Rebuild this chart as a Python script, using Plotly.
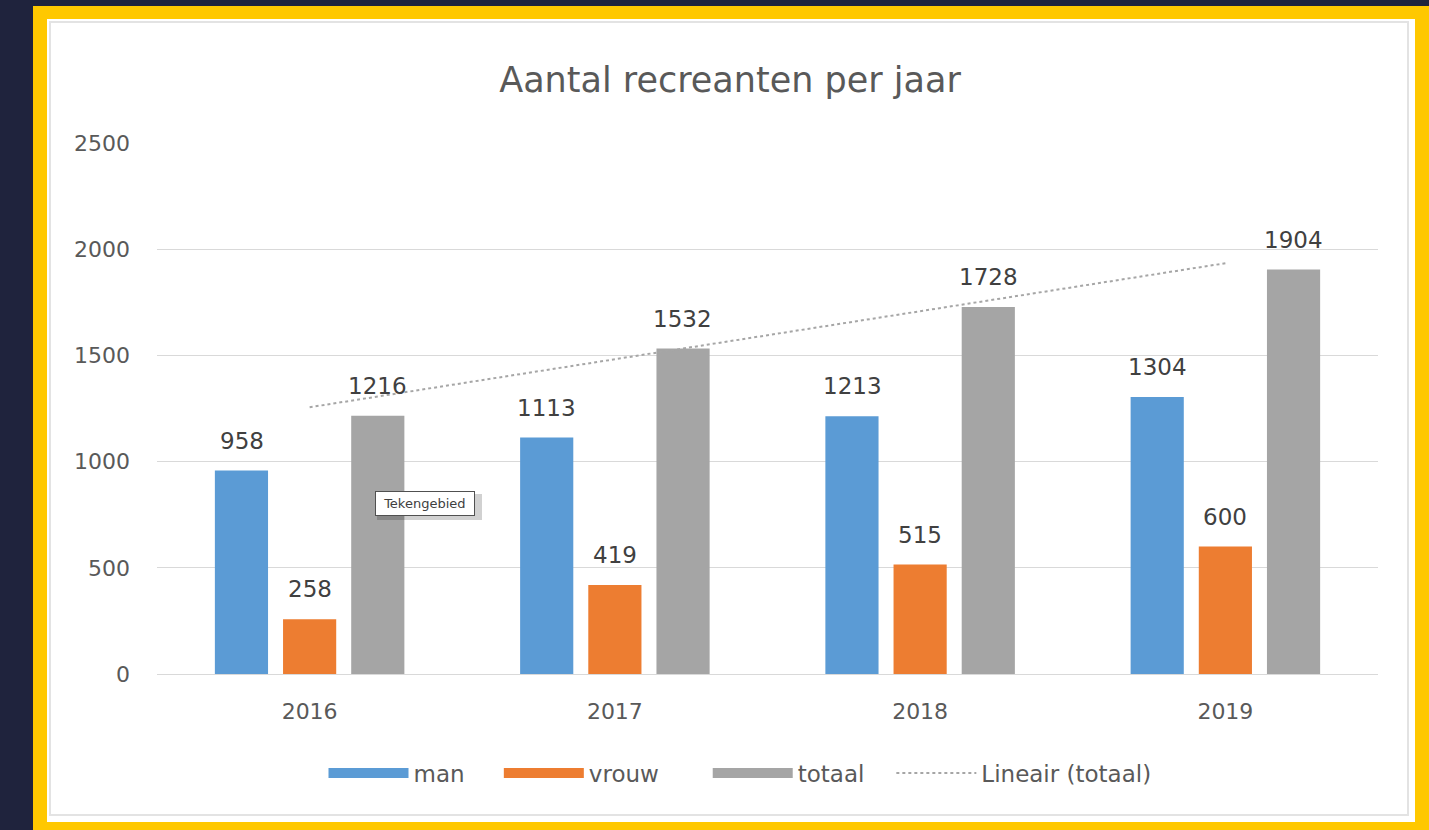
import plotly.graph_objects as go

years = ["2016", "2017", "2018", "2019"]
man = [958, 1113, 1213, 1304]
vrouw = [258, 419, 515, 600]
totaal = [1216, 1532, 1728, 1904]
trend_totaal = [1256, 1482, 1708, 1934]
y_ticks = [0, 500, 1000, 1500, 2000, 2500]

W, H = 1429, 830
FONT = "DejaVu Sans"
NB = "\u00a0"

def px(x):
    return x / W

def py(y):
    return 1 - y / H

fig = go.Figure()
series = [("man", man, "#5B9BD5", 4), ("vrouw", vrouw, "#ED7D31", 6), ("totaal", totaal, "#A5A5A5", 3)]
for name, vals, col, pad in series:
    fig.add_trace(go.Bar(
        x=years, y=vals, name=name, marker=dict(color=col, line=dict(width=0)),
        showlegend=False,
    ))
# legend proxies (wide swatches)
for name, vals, col, pad in series:
    fig.add_trace(go.Scatter(x=[None], y=[None], mode="lines", name=name + NB * pad,
                             line=dict(color=col, width=12), showlegend=True))

fig.add_trace(go.Scatter(
    x=years, y=trend_totaal, mode="lines", name="Lineair (totaal)",
    line=dict(color="#A6A6A6", width=2, dash="dot"), showlegend=True,
))

# data labels above bars, placed through the axis scales (category index on x)
annotations = []
slot = 68
for k, (name, vals, col, pad) in enumerate(series):
    for i, v in enumerate(vals):
        annotations.append(dict(
            x=i, y=v, xref="x", yref="y", text=str(v), showarrow=False,
            xshift=(k - 1) * slot, yshift=30, xanchor="center", yanchor="middle",
            font=dict(size=23, color="#404040", family=FONT),
        ))

annotations.append(dict(text=NB + "Tekengebied" + NB, xref="paper", yref="paper",
                        x=px(425), y=py(503), xanchor="center", yanchor="middle",
                        showarrow=False, font=dict(size=13, color="#404040", family=FONT),
                        bgcolor="#FFFFFF", bordercolor="#505050", borderwidth=1, borderpad=4))

shapes = [
    dict(type="rect", xref="paper", yref="paper", x0=px(33), x1=1.0, y0=0, y1=py(6),
         fillcolor="#FFC800", line=dict(width=0), layer="below"),
    dict(type="rect", xref="paper", yref="paper", x0=px(47), x1=px(1415), y0=py(822), y1=py(19),
         fillcolor="#FFFFFF", line=dict(width=0), layer="below"),
    dict(type="rect", xref="paper", yref="paper", x0=px(50), x1=px(1408), y0=py(815), y1=py(22),
         fillcolor="rgba(0,0,0,0)", line=dict(width=2, color="#E3E3E3"), layer="below"),
    # soft shadow of the "Tekengebied" tooltip
    dict(type="rect", xref="paper", yref="paper", x0=px(377), x1=px(482), y0=py(520), y1=py(494),
         fillcolor="rgba(0,0,0,0.18)", line=dict(width=0), layer="above"),
]

fig.update_layout(
    width=W, height=H,
    margin=dict(l=0, r=0, t=0, b=0, autoexpand=False),
    paper_bgcolor="#1F233D",
    plot_bgcolor="rgba(0,0,0,0)",
    barmode="group", bargap=0.33, bargroupgap=0.22,
    shapes=shapes,
    annotations=annotations,
    font=dict(family=FONT, color="#595959"),
    title=dict(text="Aantal recreanten per jaar", x=px(730), xanchor="center",
               y=py(80), yanchor="middle", xref="paper", yref="paper",
               font=dict(size=35, color="#595959", family=FONT)),
    xaxis=dict(type="category", domain=[px(157), px(1378)], range=[-0.5, 3.5],
               showgrid=False, zeroline=False,
               showline=True, linecolor="#D9D9D9", linewidth=1, automargin=False,
               tickfont=dict(size=22, color="#595959", family=FONT),
               ticks="", ticklabelstandoff=18),
    yaxis=dict(domain=[py(674), py(143)], range=[0, 2500], tickvals=y_ticks,
               showgrid=True, gridcolor="#D9D9D9", gridwidth=1, zeroline=False,
               automargin=False,
               tickfont=dict(size=22, color="#595959", family=FONT),
               ticks="", ticklabelstandoff=26),
    legend=dict(orientation="h", x=px(740), xanchor="center", y=py(773), yanchor="middle",
                font=dict(size=23, color="#595959", family=FONT),
                itemwidth=80, bgcolor="rgba(0,0,0,0)", traceorder="normal"),
)

fig.write_html("out.html", config={"displayModeBar": False},
               post_script="document.body.style.margin='0';document.body.style.overflow='hidden';")
